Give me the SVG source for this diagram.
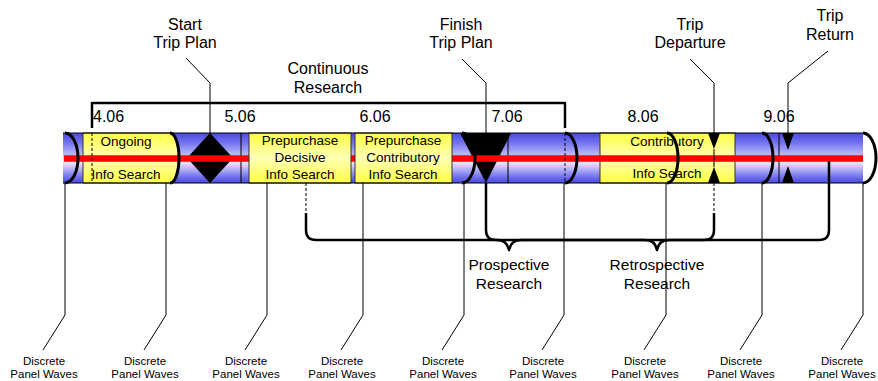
<svg xmlns="http://www.w3.org/2000/svg" width="878" height="381" viewBox="0 0 878 381">
<defs>
<linearGradient id="blue" x1="0" y1="0" x2="0" y2="1">
<stop offset="0" stop-color="#4848e0"/>
<stop offset="0.2" stop-color="#7474ee"/>
<stop offset="0.4" stop-color="#b0b0f8"/>
<stop offset="0.6" stop-color="#e4e4ff"/>
<stop offset="0.75" stop-color="#a8a8f6"/>
<stop offset="0.88" stop-color="#7070ec"/>
<stop offset="1" stop-color="#4848e0"/>
</linearGradient>
<linearGradient id="yellow" x1="0" y1="0" x2="0" y2="1">
<stop offset="0" stop-color="#ffff40"/>
<stop offset="0.5" stop-color="#ffffb8"/>
<stop offset="1" stop-color="#ffff40"/>
</linearGradient>
<style>
text{font-family:"Liberation Sans",Arial,sans-serif;fill:#000;text-anchor:middle}
.big{font-size:16px}
.mid{font-size:15.5px}
.box{font-size:13.5px}
.small{font-size:11.5px}
.thin{fill:none;stroke:#000;stroke-width:1}
.dash{fill:none;stroke:#000;stroke-width:1;stroke-dasharray:3,2}
.thick{fill:none;stroke:#000;stroke-width:2.5;stroke-linejoin:round}
.cap{fill:none;stroke:#000;stroke-width:3}
.ybox{fill:url(#yellow);stroke:#333;stroke-width:1}
</style>
</defs>

<g id="bar">
<rect x="63" y="133" width="800" height="50" fill="url(#blue)"/>
<path d="M863,133 A13,25 0 0 1 863,183 Z" fill="#fff"/>
</g>

<g id="ongoing">
<path class="ybox" d="M83,133 H170 A9,25 0 0 1 170,183 H83 Z"/>
</g>
<g id="contributory">
<rect class="ybox" x="600" y="133" width="135" height="50"/>
</g>

<g id="month-lines">
<path class="thin" d="M241,133 V183 M508,133 V183 M779,133 V183"/>
</g>

<g id="start-diamond">
<path d="M210,133 L233,158 L210,183 L187,158 Z" fill="#000"/>
</g>
<g id="finish-triangle">
<path d="M460,133 L511,133 L486,183 Z" fill="#000"/>
</g>

<g id="red-line">
<path d="M64,158.5 H863" stroke="#ff0000" stroke-width="6.5" fill="none"/>
</g>

<g id="prepurchase-decisive">
<rect class="ybox" x="249" y="133" width="102" height="50"/>
<text class="box" x="300" y="145">Prepurchase</text>
<text class="box" x="300" y="162">Decisive</text>
<text class="box" x="300" y="179">Info Search</text>
</g>
<g id="prepurchase-contributory">
<rect class="ybox" x="355" y="133" width="97" height="50"/>
<text class="box" x="403" y="145">Prepurchase</text>
<text class="box" x="403" y="162">Contributory</text>
<text class="box" x="403" y="179">Info Search</text>
</g>

<g id="caps">
<path class="cap" d="M65,133 A13,25 0 0 1 65,183"/>
<path class="cap" d="M170,133 A9,25 0 0 1 170,183"/>
<path class="cap" d="M462,133 A13,25 0 0 1 462,183"/>
<path class="cap" d="M565,133 A12,25 0 0 1 565,183"/>
<path class="cap" d="M667,133 A11,25 0 0 1 667,183"/>
<path class="cap" d="M762,133 A11,25 0 0 1 762,183"/>
<path class="cap" d="M863,133 A13,25 0 0 1 863,183"/>
</g>

<g id="departure-marker">
<path d="M708,133 L720,133 L714,149 Z M708,183 L720,183 L714,167 Z" fill="#000"/>
<path class="thin" d="M714,149 V167" stroke="#555"/>
</g>
<g id="return-marker">
<path d="M782,133 L794,133 L788,150 Z M782,183 L794,183 L788,166 Z" fill="#000"/>
</g>

<g id="bar-outline">
<path class="thin" d="M63,133 H863 M63,183 H863"/>
</g>

<g id="box-texts">
<text class="box" x="126" y="146">Ongoing</text>
<text class="box" x="126" y="179">Info Search</text>
<text class="box" x="667" y="146">Contributory</text>
<text class="box" x="667" y="178">Info Search</text>
</g>

<g id="dates">
<text class="big" x="93" y="122" style="text-anchor:start">4.06</text>
<text class="big" x="240" y="122">5.06</text>
<text class="big" x="375" y="122">6.06</text>
<text class="big" x="507" y="122">7.06</text>
<text class="big" x="643" y="122">8.06</text>
<text class="big" x="779" y="122">9.06</text>
</g>

<g id="top-labels">
<text class="big" x="185" y="30">Start</text>
<text class="big" x="185" y="48">Trip Plan</text>
<text class="big" x="328" y="74">Continuous</text>
<text class="big" x="328" y="93">Research</text>
<text class="big" x="461" y="30">Finish</text>
<text class="big" x="461" y="48">Trip Plan</text>
<text class="big" x="690" y="30">Trip</text>
<text class="big" x="690" y="48">Departure</text>
<text class="big" x="830" y="21">Trip</text>
<text class="big" x="830" y="40">Return</text>
</g>

<g id="brace-labels">
<text class="mid" x="509" y="270">Prospective</text>
<text class="mid" x="509" y="289">Research</text>
<text class="mid" x="657" y="270">Retrospective</text>
<text class="mid" x="657" y="289">Research</text>
</g>

<g id="wave-labels">
<text class="small" x="44" y="365">Discrete</text><text class="small" x="44" y="378">Panel Waves</text>
<text class="small" x="145" y="365">Discrete</text><text class="small" x="145" y="378">Panel Waves</text>
<text class="small" x="246" y="365">Discrete</text><text class="small" x="246" y="378">Panel Waves</text>
<text class="small" x="342" y="365">Discrete</text><text class="small" x="342" y="378">Panel Waves</text>
<text class="small" x="443" y="365">Discrete</text><text class="small" x="443" y="378">Panel Waves</text>
<text class="small" x="543" y="365">Discrete</text><text class="small" x="543" y="378">Panel Waves</text>
<text class="small" x="645" y="365">Discrete</text><text class="small" x="645" y="378">Panel Waves</text>
<text class="small" x="741" y="365">Discrete</text><text class="small" x="741" y="378">Panel Waves</text>
<text class="small" x="842" y="365">Discrete</text><text class="small" x="842" y="378">Panel Waves</text>
</g>

<g id="connectors">
<path class="thin" d="M186,58 L210,83 V133"/>
<path class="thin" d="M462,59 L486,83 V133"/>
<path class="thin" d="M690,59 L714,83 V133"/>
<path class="thin" d="M828,51 L788,83 V133"/>
<path class="thick" d="M92,128 V103 H565 V128" stroke-width="3"/>
<path class="dash" d="M92,133 V183 M565,133 V183"/>
<path class="dash" d="M306,183 V213 M714,183 V213"/>
<path class="thick" d="M306,213 V230 Q306,240 316,240 H497 Q507,240 509,250 Q511,240 521,240 H704 Q714,240 714,230 V213"/>
<path class="thick" d="M486,183 V230 Q486,240 496,240 H645 Q655,240 657,250 Q659,240 669,240 H819 Q829,240 829,230 V161"/>
<path class="thin" d="M65,183 V315 L43,350"/>
<path class="thin" d="M166,183 V315 L144,350"/>
<path class="thin" d="M267,183 V315 L245,350"/>
<path class="thin" d="M363,183 V315 L341,350"/>
<path class="thin" d="M464,183 V315 L442,350"/>
<path class="thin" d="M564,183 V315 L542,350"/>
<path class="thin" d="M666,183 V315 L644,350"/>
<path class="thin" d="M762,183 V315 L740,350"/>
<path class="thin" d="M863,183 V315 L841,350"/>
</g>
</svg>
